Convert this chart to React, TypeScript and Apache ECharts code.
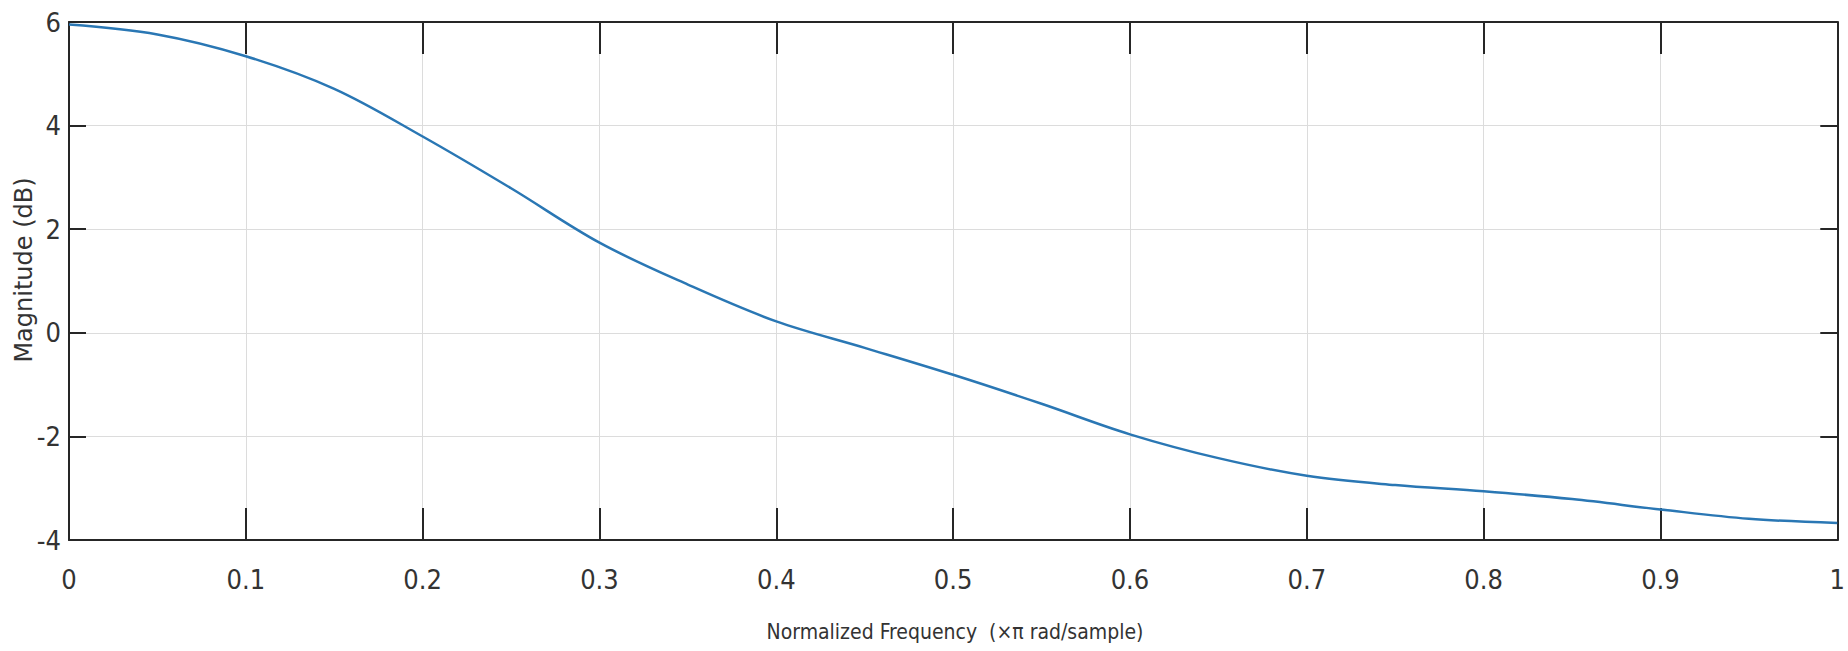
import React, { useEffect, useRef } from "react";
import * as echarts from "echarts";

// Normalized frequency (×π rad/sample)
const freq = [0, 0.05, 0.1, 0.15, 0.2, 0.25, 0.3, 0.35, 0.4, 0.45, 0.5, 0.55, 0.6, 0.65, 0.7, 0.75, 0.8, 0.85, 0.9, 0.95, 1.0];
// Magnitude (dB)
const magnitudeDb = [5.95, 5.76, 5.34, 4.71, 3.79, 2.79, 1.74, 0.93, 0.22, -0.29, -0.81, -1.37, -1.96, -2.42, -2.76, -2.94, -3.06, -3.21, -3.41, -3.59, -3.67];

const xTitle = "Normalized Frequency  (\u00d7\u03c0 rad/sample)";
const yTitle = "Magnitude (dB)";

export default function App() {
  const ref = useRef<HTMLDivElement>(null);
  useEffect(() => {
    const chart = echarts.init(ref.current!, null, { renderer: "svg" });
    const axisColor = "#262626";
    const gridColor = "#dcdcdc";
    const labelColor = "#333333";
    const tickFont = "'Liberation Sans Narrow', 'DejaVu Sans Condensed', 'Liberation Sans', Arial, sans-serif";
    const lineStyle = { color: axisColor, width: 2 };
    chart.setOption({
      animation: false,
      backgroundColor: "#ffffff",
      grid: { left: 69, right: 7, top: 22, bottom: 111, containLabel: false },
      xAxis: [
        {
          type: "value", min: 0, max: 1, interval: 0.1, position: "bottom",
          axisLine: { show: true, onZero: false, lineStyle },
          axisTick: { show: true, inside: true, length: 32, lineStyle },
          axisLabel: { margin: 26, color: labelColor, fontSize: 27, fontFamily: tickFont },
          splitLine: { show: true, lineStyle: { color: gridColor, width: 1 } },
        },
        {
          type: "value", min: 0, max: 1, interval: 0.1, position: "top",
          axisLine: { show: true, onZero: false, lineStyle },
          axisTick: { show: true, inside: true, length: 32, lineStyle },
          axisLabel: { show: false },
          splitLine: { show: false },
        },
      ],
      yAxis: [
        {
          type: "value", min: -4, max: 6, interval: 2, position: "left",
          axisLine: { show: true, onZero: false, lineStyle },
          axisTick: { show: true, inside: true, length: 17, lineStyle },
          axisLabel: { margin: 8, color: labelColor, fontSize: 27, fontFamily: tickFont },
          splitLine: { show: true, lineStyle: { color: gridColor, width: 1 } },
        },
        {
          type: "value", min: -4, max: 6, interval: 2, position: "right",
          axisLine: { show: true, onZero: false, lineStyle },
          axisTick: { show: true, inside: true, length: 17, lineStyle },
          axisLabel: { show: false },
          splitLine: { show: false },
        },
      ],
      series: [
        {
          type: "line",
          xAxisIndex: 0,
          yAxisIndex: 0,
          data: freq.map((f, i) => [f, magnitudeDb[i]]),
          showSymbol: false,
          smooth: 0.35,
          lineStyle: { color: "#2a77b4", width: 2.5 },
          z: 1,
        },
      ],
      graphic: [
        {
          type: "text",
          x: 955,
          y: 632,
          style: {
            text: xTitle, fill: labelColor, fontSize: 21, fontFamily: tickFont,
            align: "center", verticalAlign: "middle",
          },
        },
        {
          type: "text",
          x: 24,
          y: 270,
          rotation: Math.PI / 2,
          style: {
            text: yTitle, fill: labelColor, fontSize: 24,
            fontFamily: "'DejaVu Sans', 'Liberation Sans', Arial, sans-serif",
            align: "center", verticalAlign: "middle",
          },
        },
      ],
    });
    return () => chart.dispose();
  }, []);
  return <div ref={ref} style={{ position: "fixed", left: 0, top: 0, width: 1848, height: 651 }} />;
}
